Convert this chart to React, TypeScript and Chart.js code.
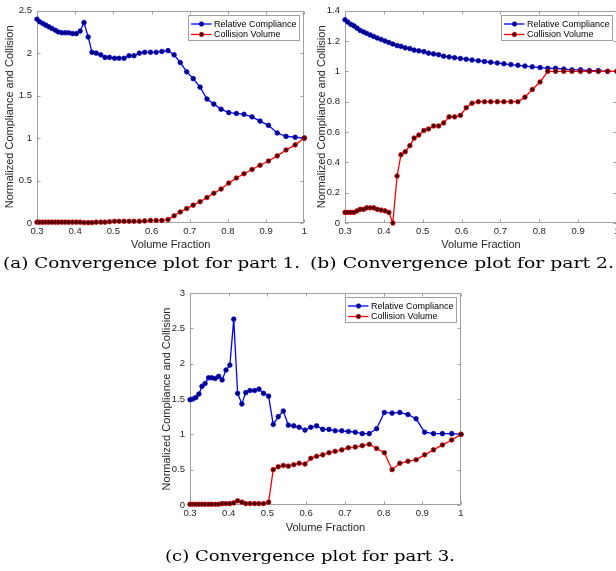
import React, { useEffect, useRef } from 'react';
import { Chart, registerables } from 'chart.js';

Chart.register(...registerables);

// ---------- data ----------
const volumeFraction = [
  0.300, 0.307, 0.315, 0.323, 0.331, 0.339, 0.348, 0.356, 0.365, 0.374,
  0.383, 0.393, 0.403, 0.413, 0.423, 0.434, 0.444, 0.455, 0.467, 0.478,
  0.490, 0.503, 0.515, 0.528, 0.541, 0.554, 0.568, 0.582, 0.597, 0.612,
  0.627, 0.643, 0.659, 0.675, 0.692, 0.709, 0.727, 0.745, 0.763, 0.782,
  0.802, 0.822, 0.842, 0.863, 0.884, 0.906, 0.929, 0.952, 0.976, 1.000,
];

const part1Compliance = [
  2.40, 2.37, 2.35, 2.33, 2.31, 2.29, 2.27, 2.25, 2.24, 2.24,
  2.24, 2.23, 2.23, 2.26, 2.36, 2.19, 2.01, 2.00, 1.98, 1.95,
  1.95, 1.94, 1.94, 1.94, 1.97, 1.97, 2.00, 2.01, 2.01, 2.01,
  2.02, 2.03, 1.98, 1.89, 1.78, 1.70, 1.60, 1.46, 1.40, 1.34,
  1.30, 1.29, 1.28, 1.25, 1.20, 1.15, 1.06, 1.02, 1.01, 1.00,
];
const part1Collision = [
  0.01, 0.01, 0.01, 0.01, 0.01, 0.01, 0.01, 0.01, 0.01, 0.01,
  0.01, 0.01, 0.01, 0.01, 0.005, 0.005, 0.005, 0.01, 0.01, 0.01,
  0.015, 0.02, 0.02, 0.02, 0.02, 0.02, 0.02, 0.025, 0.03, 0.03,
  0.03, 0.04, 0.085, 0.13, 0.17, 0.21, 0.25, 0.30, 0.35, 0.40,
  0.47, 0.53, 0.58, 0.63, 0.68, 0.73, 0.79, 0.86, 0.92, 1.00,
];

const part2Compliance = [
  1.34, 1.325, 1.31, 1.30, 1.285, 1.27, 1.26, 1.25, 1.24, 1.23,
  1.22, 1.21, 1.20, 1.19, 1.18, 1.17, 1.165, 1.155, 1.15, 1.14,
  1.135, 1.13, 1.12, 1.115, 1.11, 1.10, 1.095, 1.09, 1.085, 1.08,
  1.075, 1.07, 1.065, 1.06, 1.055, 1.05, 1.045, 1.04, 1.035, 1.03,
  1.025, 1.02, 1.02, 1.015, 1.01, 1.01, 1.005, 1.005, 1.00, 1.00,
];
const part2Collision = [
  0.07, 0.07, 0.07, 0.07, 0.08, 0.09, 0.09, 0.10, 0.10, 0.10,
  0.09, 0.085, 0.08, 0.07, 0.00, 0.31, 0.45, 0.47, 0.51, 0.56,
  0.58, 0.61, 0.62, 0.64, 0.64, 0.66, 0.70, 0.70, 0.71, 0.76,
  0.79, 0.80, 0.80, 0.80, 0.80, 0.80, 0.80, 0.80, 0.83, 0.88,
  0.93, 1.00, 1.00, 1.00, 1.00, 1.00, 1.00, 1.00, 1.00, 1.00,
];

const part3Compliance = [
  1.49, 1.50, 1.52, 1.57, 1.68, 1.72, 1.80, 1.80, 1.79, 1.82,
  1.77, 1.91, 1.98, 2.63, 1.58, 1.43, 1.59, 1.62, 1.62, 1.64,
  1.58, 1.54, 1.14, 1.25, 1.33, 1.13, 1.12, 1.10, 1.06, 1.10,
  1.12, 1.07, 1.07, 1.05, 1.05, 1.04, 1.03, 1.01, 1.01, 1.08,
  1.31, 1.30, 1.31, 1.28, 1.22, 1.03, 1.01, 1.01, 1.01, 1.00,
];
const part3Collision = [
  0.01, 0.01, 0.01, 0.01, 0.01, 0.01, 0.01, 0.01, 0.01, 0.01,
  0.02, 0.02, 0.02, 0.03, 0.06, 0.04, 0.02, 0.02, 0.02, 0.02,
  0.02, 0.04, 0.50, 0.54, 0.56, 0.55, 0.57, 0.59, 0.58, 0.66,
  0.69, 0.71, 0.74, 0.76, 0.78, 0.81, 0.82, 0.84, 0.86, 0.80,
  0.74, 0.50, 0.59, 0.62, 0.64, 0.71, 0.78, 0.85, 0.92, 1.00,
];

const xTickValues = [0.3, 0.4, 0.5, 0.6, 0.7, 0.8, 0.9, 1];
const yTicksPart1 = [0, 0.5, 1, 1.5, 2, 2.5];
const yTicksPart2 = [0, 0.2, 0.4, 0.6, 0.8, 1, 1.2, 1.4];
const yTicksPart3 = [0, 0.5, 1, 1.5, 2, 2.5, 3];

const seriesLabels = ['Relative Compliance', 'Collision Volume'];
const xAxisTitle = 'Volume Fraction';
const yAxisTitle = 'Normalized Compliance and Collision';
const captions = [
  '(a) Convergence plot for part 1.',
  '(b) Convergence plot for part 2.',
  '(c) Convergence plot for part 3.',
];

// ---------- styling ----------
const SANS = "'Liberation Sans', Arial, Helvetica, sans-serif";
const SERIF = "'DejaVu Serif', 'Liberation Serif', serif";
const TEXT = '#262626';
const FRAME = '#a0a0a0';
const BLUE = '#0000ff';
const RED = '#ff0000';

const fmt = (v: number) => String(Math.round(v * 100) / 100);

const framePlugin = {
  id: 'frame',
  beforeDatasetsDraw(chart: any) {
    const { ctx, chartArea } = chart;
    const xs = chart.scales.x;
    const ys = chart.scales.y;
    const L = Math.round(chartArea.left) + 0.5;
    const R = Math.round(chartArea.right) - 0.5;
    const T = Math.round(chartArea.top) + 0.5;
    const B = Math.round(chartArea.bottom) - 0.5;
    ctx.save();
    ctx.strokeStyle = FRAME;
    ctx.lineWidth = 1;
    ctx.strokeRect(L, T, R - L, B - T);
    ctx.beginPath();
    const tl = 3;
    xs.ticks.forEach((t: any) => {
      const p = Math.round(xs.getPixelForValue(t.value)) + 0.5;
      ctx.moveTo(p, B); ctx.lineTo(p, B - tl);
      ctx.moveTo(p, T); ctx.lineTo(p, T + tl);
    });
    ys.ticks.forEach((t: any) => {
      const p = Math.round(ys.getPixelForValue(t.value)) + 0.5;
      ctx.moveTo(L, p); ctx.lineTo(L + tl, p);
      ctx.moveTo(R, p); ctx.lineTo(R - tl, p);
    });
    ctx.stroke();
    ctx.restore();
  },
};

const legendPlugin = {
  id: 'boxLegend',
  afterDatasetsDraw(chart: any) {
    const { ctx, chartArea } = chart;
    const ds = seriesLabels
      .map((l) => chart.data.datasets.find((d: any) => d.label === l))
      .filter(Boolean);
    ctx.save();
    ctx.font = `9px ${SANS}`;
    const tw = Math.max(...ds.map((d: any) => ctx.measureText(d.label).width));
    const w = Math.round(25.5 + tw + 2.5);
    const h = 25;
    const bx = Math.round(chartArea.right - 5 - w) + 0.5;
    const by = Math.round(chartArea.top + 4) + 0.5;
    ctx.fillStyle = '#ffffff';
    ctx.fillRect(bx, by, w, h);
    ctx.strokeStyle = FRAME;
    ctx.lineWidth = 1;
    ctx.strokeRect(bx, by, w, h);
    ds.forEach((d: any, i: number) => {
      const cy = by + 8.5 + i * 10.5;
      ctx.strokeStyle = d.borderColor;
      ctx.lineWidth = 1.3;
      ctx.beginPath();
      ctx.moveTo(bx + 2.5, cy);
      ctx.lineTo(bx + 23, cy);
      ctx.stroke();
      ctx.beginPath();
      ctx.arc(bx + 13, cy, 2.2, 0, Math.PI * 2);
      ctx.fillStyle = d.pointBackgroundColor;
      ctx.fill();
      ctx.lineWidth = 0.8;
      ctx.strokeStyle = d.pointBorderColor;
      ctx.stroke();
      ctx.fillStyle = '#000000';
      ctx.textBaseline = 'middle';
      ctx.textAlign = 'left';
      ctx.fillText(d.label, bx + 25.5, cy + 0.5);
    });
    ctx.restore();
  },
};

type PanelProps = {
  left: number; top: number; width: number; height: number;
  area: { left: number; right: number; top: number; bottom: number };
  compliance: number[]; collision: number[];
  yTicks: number[]; yTitlePad: number;
};

function Panel(p: PanelProps) {
  const ref = useRef<HTMLCanvasElement>(null);
  useEffect(() => {
    if (!ref.current) return;
    const toPts = (arr: number[]) => arr.map((v, i) => ({ x: volumeFraction[i], y: v }));
    const mkDs = (label: string, arr: number[], line: string, fill: string, edge: string) => ({
      label,
      data: toPts(arr),
      borderColor: line,
      borderWidth: 1.3,
      pointRadius: 2.3,
      pointBackgroundColor: fill,
      pointBorderColor: edge,
      pointBorderWidth: 0.8,
      pointHoverRadius: 2.3,
      tension: 0,
      fill: false,
      clip: false,
    });
    const yMin = p.yTicks[0];
    const yMax = p.yTicks[p.yTicks.length - 1];
    const chart = new Chart(ref.current, {
      type: 'line',
      data: {
        datasets: [
          mkDs(seriesLabels[1], p.collision, RED, '#3a0000', '#e00000'),
          mkDs(seriesLabels[0], p.compliance, BLUE, '#000070', '#0000e0'),
        ],
      },
      options: {
        responsive: false,
        animation: false,
        devicePixelRatio: 1,
        events: [],
        layout: {
          padding: {
            left: 0,
            top: p.area.top,
            right: p.width - p.area.right,
            bottom: 0,
          },
        },
        plugins: {
          legend: { display: false },
          tooltip: { enabled: false },
          title: { display: false },
        },
        scales: {
          x: {
            type: 'linear',
            min: 0.3,
            max: 1,
            grid: { display: false, drawTicks: false },
            border: { display: false },
            afterBuildTicks: (s: any) => { s.ticks = xTickValues.map((v) => ({ value: v })); },
            afterFit: (s: any) => { s.height = p.height - p.area.bottom; },
            ticks: {
              autoSkip: false,
              maxRotation: 0,
              padding: 3,
              color: TEXT,
              font: { family: SANS, size: 9.5 },
              callback: (v: any) => fmt(Number(v)),
            },
            title: {
              display: true,
              text: xAxisTitle,
              color: TEXT,
              font: { family: SANS, size: 11 },
              padding: { top: 0, bottom: 0 },
            },
          },
          y: {
            type: 'linear',
            min: yMin,
            max: yMax,
            grid: { display: false, drawTicks: false },
            border: { display: false },
            afterBuildTicks: (s: any) => { s.ticks = p.yTicks.map((v) => ({ value: v })); },
            afterFit: (s: any) => { s.width = p.area.left; },
            ticks: {
              autoSkip: false,
              padding: 5,
              color: TEXT,
              font: { family: SANS, size: 9.5 },
              callback: (v: any) => fmt(Number(v)),
            },
            title: {
              display: true,
              text: yAxisTitle,
              color: TEXT,
              font: { family: SANS, size: 11 },
              padding: { top: p.yTitlePad, bottom: 0 },
            },
          },
        },
      },
      plugins: [framePlugin, legendPlugin],
    } as any);
    return () => chart.destroy();
  }, []);
  return (
    <div style={{ position: 'absolute', left: p.left, top: p.top, width: p.width, height: p.height }}>
      <canvas ref={ref} width={p.width} height={p.height} style={{ width: p.width, height: p.height, display: 'block' }} />
    </div>
  );
}

export default function App() {
  useEffect(() => {
    document.body.style.margin = '0';
  }, []);
  return (
    <div style={{ position: 'relative', width: 616, height: 571, overflow: 'hidden', background: '#ffffff' }}>
      <Panel left={0} top={0} width={310} height={252}
        area={{ left: 37, right: 305, top: 10, bottom: 223 }}
        compliance={part1Compliance} collision={part1Collision}
        yTicks={yTicksPart1} yTitlePad={3} />
      <Panel left={308} top={0} width={318} height={252}
        area={{ left: 37, right: 309, top: 10, bottom: 223 }}
        compliance={part2Compliance} collision={part2Collision}
        yTicks={yTicksPart2} yTitlePad={7} />
      <Panel left={150} top={280} width={320} height={255}
        area={{ left: 40, right: 311, top: 13, bottom: 225 }}
        compliance={part3Compliance} collision={part3Collision}
        yTicks={yTicksPart3} yTitlePad={10} />
      <svg width={616} height={571} style={{ position: 'absolute', left: 0, top: 0, pointerEvents: 'none' }}>
        <text x={3} y={268} fontFamily={SERIF} fontSize={15} fill="#000" textLength={297} lengthAdjust="spacingAndGlyphs">{captions[0]}</text>
        <text x={310} y={268} fontFamily={SERIF} fontSize={15} fill="#000" textLength={304} lengthAdjust="spacingAndGlyphs">{captions[1]}</text>
        <text x={165} y={561} fontFamily={SERIF} fontSize={15} fill="#000" textLength={290} lengthAdjust="spacingAndGlyphs">{captions[2]}</text>
      </svg>
    </div>
  );
}
